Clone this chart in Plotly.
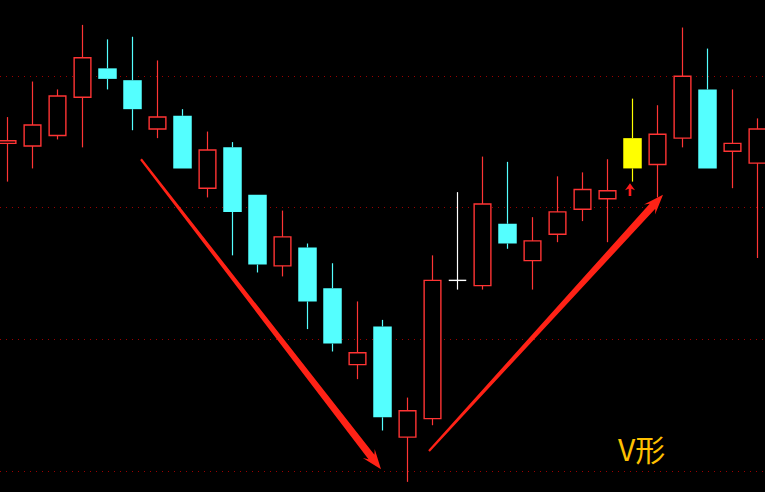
import math

import plotly.graph_objects as go

# 日K线数据（价格单位：元）
idx = list(range(31))
opens = [14.49, 14.47, 14.55, 14.84, 15.06, 14.97, 14.60, 14.70, 14.15, 14.46,
         14.10, 13.56, 13.70, 13.39, 12.81, 13.10, 12.26, 12.40, 13.45, 13.41,
         13.88, 13.60, 13.80, 13.99, 14.07, 14.30, 14.33, 14.53, 14.90, 14.43, 14.34]
highs = [14.69, 14.96, 14.90, 15.39, 15.28, 15.30, 15.12, 14.75, 14.58, 14.50,
         14.10, 13.98, 13.73, 13.58, 13.29, 13.15, 12.56, 13.64, 14.12, 14.39,
         14.35, 13.93, 14.24, 14.27, 14.37, 14.83, 14.78, 15.37, 15.21, 14.90, 14.68]
lows = [14.20, 14.30, 14.52, 14.46, 14.90, 14.59, 14.53, 14.30, 14.08, 13.64,
        13.51, 13.48, 13.08, 12.91, 12.70, 12.31, 11.92, 12.35, 13.38, 13.38,
        13.69, 13.38, 13.74, 13.90, 13.74, 14.20, 14.08, 14.46, 14.30, 14.15, 13.62]
closes = [14.51, 14.63, 14.85, 15.14, 14.98, 14.75, 14.69, 14.30, 14.44, 13.97,
          13.57, 13.78, 13.29, 12.97, 12.90, 12.41, 12.46, 13.45, 13.45, 14.03,
          13.73, 13.75, 13.97, 14.14, 14.13, 14.53, 14.56, 15.00, 14.30, 14.49, 14.60]
grid_prices = [12, 13, 14, 15]

signal_idx = 25          # 黄色信号K线
v_start, v_low, v_end = 5, 15, 26   # V形：下跌起点、底部、回升终点
label = "V形"

RED = "#FF3434"
CYAN = "#54FFFF"
YELLOW = "#FFFF00"
WHITE = "#FFFFFF"
ARROW_RED = "#FF2216"

W, H = 765, 492
X0, X1 = -0.3, 30.3
Y0, Y1 = 11.843, 15.579
BODY_W = 0.7


def kind(i):
    if i == signal_idx:
        return "yellow"
    if closes[i] > opens[i]:
        return "up"
    if closes[i] < opens[i]:
        return "down"
    return "doji"


colors = {"up": RED, "down": CYAN, "yellow": YELLOW, "doji": WHITE}

fig = go.Figure()

# 影线（上影、下影分开画，避免穿过空心实体）
for k, col in colors.items():
    xs, ys = [], []
    for i in idx:
        if kind(i) != k:
            continue
        top, bot = max(opens[i], closes[i]), min(opens[i], closes[i])
        if highs[i] > top:
            xs += [i, i, None]
            ys += [top, highs[i], None]
        if lows[i] < bot:
            xs += [i, i, None]
            ys += [lows[i], bot, None]
    if xs:
        fig.add_trace(go.Scatter(x=xs, y=ys, mode="lines",
                                 line=dict(color=col, width=1.2),
                                 hoverinfo="skip"))

# 实体
def bodies(k):
    sel = [i for i in idx if kind(i) == k]
    return (sel,
            [abs(closes[i] - opens[i]) for i in sel],
            [min(opens[i], closes[i]) for i in sel])


x_up, h_up, b_up = bodies("up")
fig.add_trace(go.Bar(x=x_up, y=h_up, base=b_up, width=BODY_W - 0.03,
                     marker=dict(color="#000000", line=dict(color=RED, width=1.4))))
x_dn, h_dn, b_dn = bodies("down")
fig.add_trace(go.Bar(x=x_dn, y=h_dn, base=b_dn, width=BODY_W + 0.04,
                     marker=dict(color=CYAN, line=dict(width=0))))
x_ye, h_ye, b_ye = bodies("yellow")
fig.add_trace(go.Bar(x=x_ye, y=h_ye, base=b_ye, width=BODY_W + 0.04,
                     marker=dict(color=YELLOW, line=dict(width=0))))

# 十字星横线
xs, ys = [], []
for i in idx:
    if kind(i) == "doji":
        xs += [i - BODY_W / 2, i + BODY_W / 2, None]
        ys += [opens[i], opens[i], None]
fig.add_trace(go.Scatter(x=xs, y=ys, mode="lines",
                         line=dict(color=WHITE, width=1.4), hoverinfo="skip"))


def to_px(x, y):
    return (x - X0) / (X1 - X0) * W, (Y1 - y) / (Y1 - Y0) * H


def to_data(px, py):
    return X0 + px / W * (X1 - X0), Y1 - py / H * (Y1 - Y0)


def arrow_path(tail, tip, w0, w1, head_w, head_len):
    tx, ty = to_px(*tail)
    hx, hy = to_px(*tip)
    length = math.hypot(hx - tx, hy - ty)
    ux, uy = (hx - tx) / length, (hy - ty) / length
    nx, ny = -uy, ux
    bx, by = hx - ux * head_len, hy - uy * head_len
    jx, jy = hx - ux * head_len * 0.78, hy - uy * head_len * 0.78
    pts = [
        (tx + nx * w0 / 2, ty + ny * w0 / 2),
        (jx + nx * w1 / 2, jy + ny * w1 / 2),
        (bx + nx * head_w / 2, by + ny * head_w / 2),
        (hx, hy),
        (bx - nx * head_w / 2, by - ny * head_w / 2),
        (jx - nx * w1 / 2, jy - ny * w1 / 2),
        (tx - nx * w0 / 2, ty - ny * w0 / 2),
    ]
    pts = [to_data(px, py) for px, py in pts]
    return "M " + " L ".join(f"{x:.4f},{y:.4f}" for x, y in pts) + " Z"


# 下跌箭头与回升箭头
down_tail = (v_start + 0.34, highs[v_start] - 0.93)
down_tip = (v_low - 0.06, lows[v_low] - 0.295)
up_tail = (v_low + 1.86, lows[v_low] - 0.155)
up_tip = (v_end + 0.22, lows[v_end] + 0.02)
for tail, tip in [(down_tail, down_tip), (up_tail, up_tip)]:
    fig.add_shape(type="path", path=arrow_path(tail, tip, 2.2, 7.5, 15, 20),
                  xref="x", yref="y", fillcolor=ARROW_RED,
                  line=dict(width=0), layer="above")

# 信号K线下方的小箭头
fig.add_shape(type="path",
              path=arrow_path((signal_idx - 0.1, lows[signal_idx] - 0.11),
                              (signal_idx - 0.1, lows[signal_idx] - 0.012),
                              2.6, 2.6, 10, 7),
              xref="x", yref="y", fillcolor="#FF1A1A", line=dict(width=0))

fig.add_annotation(x=v_end - 0.66, y=lows[v_low] - 0.133, text=label,
                   showarrow=False, xref="x", yref="y",
                   font=dict(family="Noto Sans CJK SC", size=30, color="#FFC000"))

fig.update_layout(
    width=W,
    height=H,
    margin=dict(l=0, r=0, t=0, b=0),
    paper_bgcolor="#000000",
    plot_bgcolor="#000000",
    barmode="overlay",
    showlegend=False,
    hovermode=False,
    xaxis=dict(range=[X0, X1], visible=False, showgrid=False, fixedrange=True),
    yaxis=dict(range=[Y0, Y1], tickvals=grid_prices, showticklabels=False,
               showgrid=True, gridcolor="#9A0000", gridwidth=1,
               griddash="1px,5px", zeroline=False, showline=False,
               fixedrange=True),
)

# 页面去掉默认边距，使图表铺满窗口
fig.write_html(
    "out.html",
    config={"displayModeBar": False},
    post_script=(
        "document.body.style.margin='0';"
        "document.body.style.overflow='hidden';"
        "document.body.style.background='#000';"
        "Plotly.relayout('{plot_id}', {width: %d, height: %d});" % (W, H)
    ),
)
